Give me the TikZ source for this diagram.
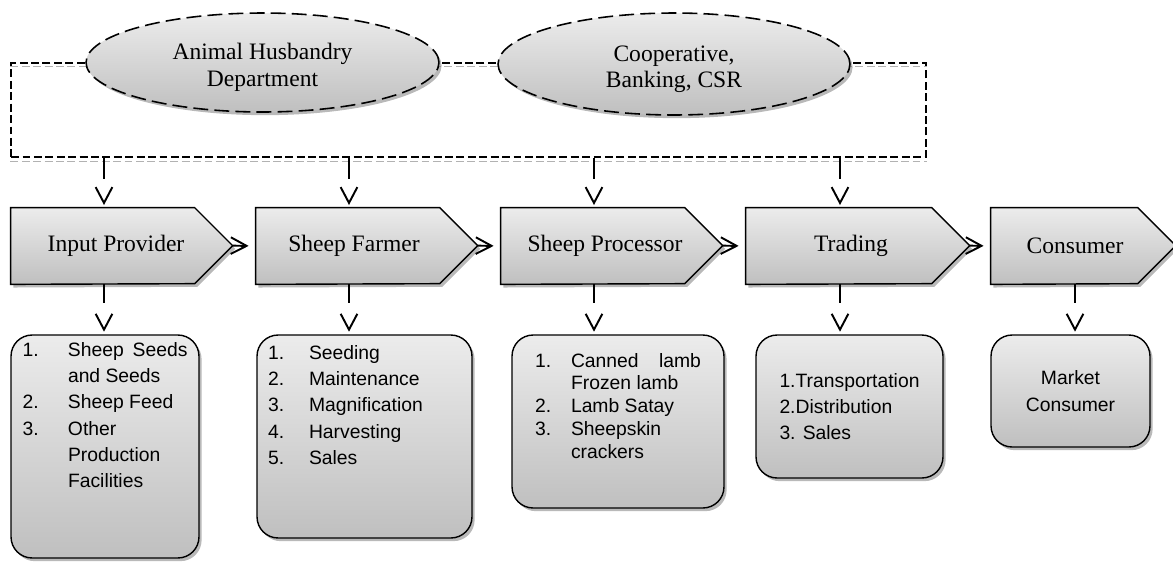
\documentclass[tikz,border=0pt]{standalone}
\usepackage{fontspec}
\setmainfont{Liberation Serif}
\setsansfont{Liberation Sans}
\usetikzlibrary{arrows.meta,shadows,shapes.geometric,backgrounds}

\begin{document}
\begin{tikzpicture}[x=0.02cm, y=-0.02cm,
    grad/.style={top color=gray!15, bottom color=gray!50, drop shadow={shadow xshift=1.5pt, shadow yshift=-1.8pt, fill=black!55}},
    dept/.style={ellipse, draw, line width=0.9pt, dash pattern=on 8.5pt off 3.5pt, grad, align=center, font=\fontsize{13.4}{15}\selectfont, minimum width=7.06cm, minimum height=1.98cm, text height=0.94cm, text depth=0pt},
    dashframe/.style={draw, line width=0.8pt, dash pattern=on 4.5pt off 2pt, minimum width=18.3cm, minimum height=1.88cm, inner sep=0pt},
    frameshade/.style={draw=gray!60, line width=0.8pt, dash pattern=on 4.5pt off 2pt},
    stage/.style={minimum height=1.52cm, inner sep=0pt, font=\fontsize{13.4}{15}\selectfont},
    stageline/.style={draw, line width=0.8pt, grad},
    item/.style={draw, line width=0.8pt, rounded corners=12pt, grad, inner sep=0pt, font=\sffamily\fontsize{11}{15}\selectfont},
    arr/.style={line width=1.1pt, -{Straight Barb[length=9pt, width=9.5pt]}},
    shaft/.style={dash pattern=on #1 off 40pt}]
    \useasboundingbox (0,0) rectangle (1173,562);

    \node[dashframe] (frame) at (468.5,110) {};
    \draw[frameshade] ([yshift=-0.08cm]frame.north west) -- ([yshift=-0.08cm]frame.north east);
    \draw[frameshade] ([yshift=-0.08cm]frame.south west) -- ([yshift=-0.08cm]frame.south east);

    \node[dept] (ahd) at (262.5,62.5) {Animal Husbandry\\Department};
    \node[dept, minimum width=7.04cm, minimum height=2.04cm] (coop) at (674,64) {Cooperative,\\Banking, CSR};

    \foreach \n/\x/\w/\bw/\s/\txt in {ip/104/3.72/184/0.48/Input Provider, sf/349/3.72/184/0.2/Sheep Farmer,
        sp/594/3.72/184/0.44/Sheep Processor, tr/840/3.76/186/0.44/Trading, co/1075/3.36/147/0/Consumer}{
        \node[stage, minimum width=\w cm] (\n) at (\x,246) {\hspace*{\s cm}\txt};
        \begin{pgfonlayer}{background}
            \draw[stageline] (\n.north west) -- ++(\bw,0) -- ++(38,38) coordinate (\n-tip)
                -- ++(-38,38) -- (\n.south west) -- cycle;
        \end{pgfonlayer}
    }

    \node[item, minimum width=3.76cm, minimum height=4.46cm] (b1) at (105,446.5)
        {\parbox[c][4.18cm][t]{3.3cm}{\makebox[0.91cm][l]{1.}Sheep\hfill Seeds\\
        \hspace*{0.91cm}and Seeds\\
        \makebox[0.91cm][l]{2.}Sheep Feed\\
        \makebox[0.91cm][l]{3.}Other\\
        \hspace*{0.91cm}Production\\
        \hspace*{0.91cm}Facilities}};
    \node[item, minimum width=4.3cm, minimum height=4.06cm] (b2) at (364.5,436.5)
        {\parbox[c][3.66cm][t]{3.86cm}{\makebox[0.82cm][l]{1.}Seeding\\
        \makebox[0.82cm][l]{2.}Maintenance\\
        \makebox[0.82cm][l]{3.}Magnification\\
        \makebox[0.82cm][l]{4.}Harvesting\\
        \makebox[0.82cm][l]{5.}Sales}};
    \node[item, minimum width=4.24cm, minimum height=3.46cm, font=\sffamily\fontsize{11}{13}\selectfont] (b3) at (618,421.5)
        {\parbox[c][2.74cm][t]{3.32cm}{\makebox[0.72cm][l]{1.}Canned\hfill lamb\\
        \hspace*{0.72cm}Frozen lamb\\
        \makebox[0.72cm][l]{2.}Lamb Satay\\
        \makebox[0.72cm][l]{3.}Sheepskin\\
        \hspace*{0.72cm}crackers}};
    \node[item, minimum width=3.74cm, minimum height=2.86cm, align=left, font=\sffamily\fontsize{11}{14.6}\selectfont] (b4) at (849.5,406.5)
        {1.Transportation\\2.Distribution\\3. Sales};
    \node[item, minimum width=3.18cm, minimum height=2.24cm, align=center, font=\sffamily\fontsize{11}{15.5}\selectfont] (b5) at (1070.5,391)
        {Market\\Consumer};

    \foreach \n in {ip,sf,sp,tr}
        \draw[arr, shaft=11.9pt, shorten >=1.5pt] (\n.north |- frame.south) -- (\n.north);
    \foreach \n/\m in {ip/b1, sf/b2, sp/b3, tr/b4, co/b5}
        \draw[arr, shaft=10.8pt, shorten >=1.5pt] (\n.south) -- (\n.south |- \m.north);
    \foreach \n/\m in {ip/sf, sf/sp, sp/tr, tr/co}
        \draw[arr, shorten >=4pt] (\n-tip) -- (\m.west);
\end{tikzpicture}
\end{document}
